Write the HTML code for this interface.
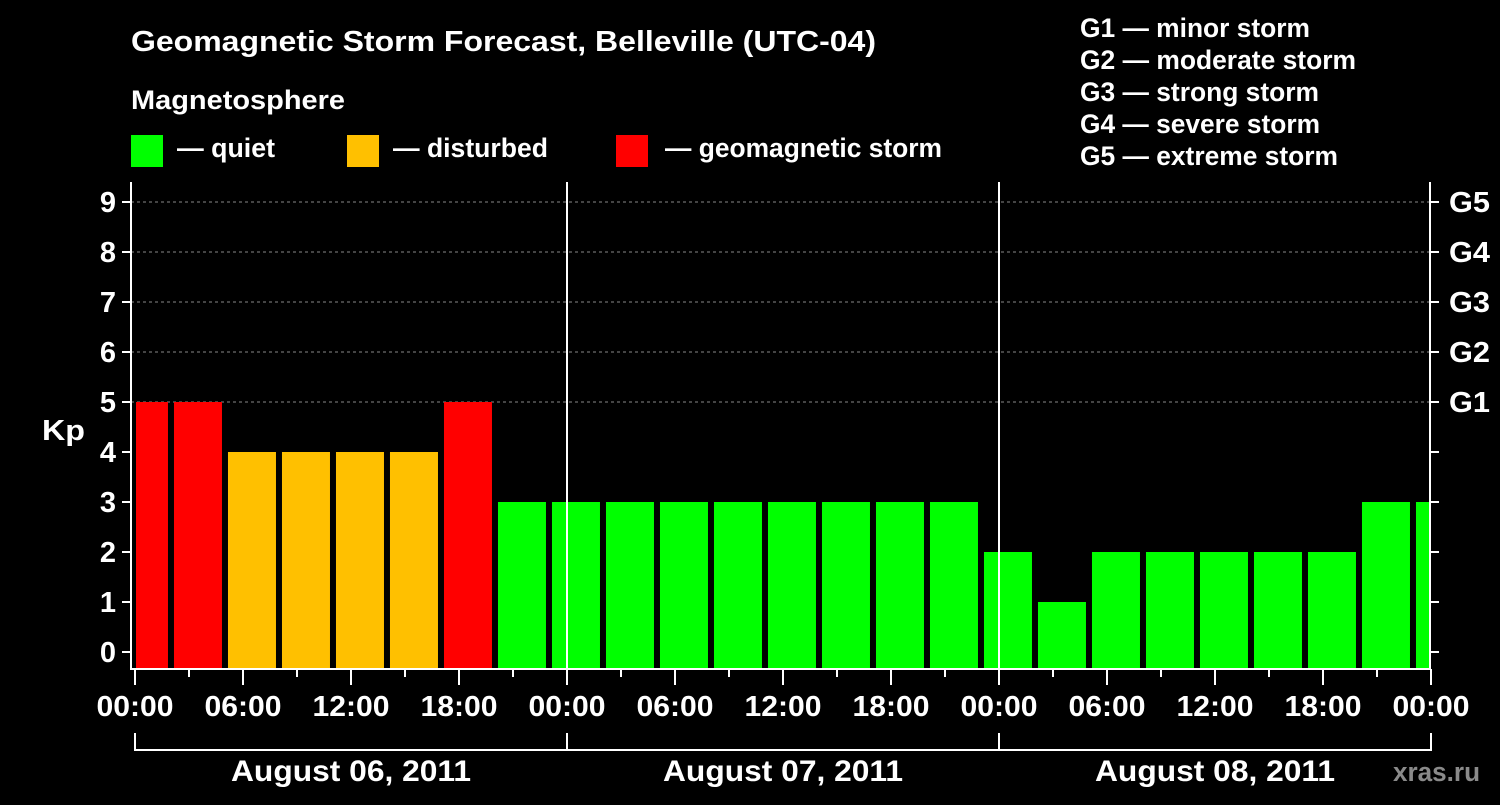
<!DOCTYPE html>
<html><head><meta charset="utf-8"><style>
body{margin:0;background:#000;width:1500px;height:800px;overflow:hidden}
svg text{font-family:"Liberation Sans",sans-serif;font-weight:bold;fill:#fff}
</style></head><body>
<svg id="c" width="1500" height="800">
<text x="131" y="51" font-size="29" textLength="745" lengthAdjust="spacingAndGlyphs">Geomagnetic Storm Forecast, Belleville (UTC-04)</text>
<text x="131" y="109" font-size="27" textLength="214" lengthAdjust="spacingAndGlyphs">Magnetosphere</text>
<rect x="131" y="135" width="32" height="32" fill="#00ff00"/>
<text x="177" y="157" font-size="27" textLength="98" lengthAdjust="spacingAndGlyphs">— quiet</text>
<rect x="347" y="135" width="32" height="32" fill="#ffc000"/>
<text x="393" y="157" font-size="27" textLength="155" lengthAdjust="spacingAndGlyphs">— disturbed</text>
<rect x="616" y="135" width="32" height="32" fill="#ff0000"/>
<text x="665" y="157" font-size="27" textLength="277" lengthAdjust="spacingAndGlyphs">— geomagnetic storm</text>
<g font-size="27">
<text x="1080" y="37" textLength="230" lengthAdjust="spacingAndGlyphs">G1 — minor storm</text>
<text x="1080" y="69" textLength="276" lengthAdjust="spacingAndGlyphs">G2 — moderate storm</text>
<text x="1080" y="101" textLength="239" lengthAdjust="spacingAndGlyphs">G3 — strong storm</text>
<text x="1080" y="133" textLength="240" lengthAdjust="spacingAndGlyphs">G4 — severe storm</text>
<text x="1080" y="165" textLength="258" lengthAdjust="spacingAndGlyphs">G5 — extreme storm</text>
</g>
<text x="42" y="440" font-size="29" textLength="43" lengthAdjust="spacingAndGlyphs">Kp</text>
<text x="1393" y="781" font-size="27" textLength="87" lengthAdjust="spacingAndGlyphs" style="fill:#8a8a8a">xras.ru</text>
<g id="grid"></g><g id="bars"></g><g id="axes"></g>
</svg>
<script>
const kpValues=[5,5,4,4,4,4,5,3,3,3,3,3,3,3,3,3,2,1,2,2,2,2,2,3,3];
const yTicks=[0,1,2,3,4,5,6,7,8,9];
const gLabels=["G1","G2","G3","G4","G5"];
const hourLabels=["00:00","06:00","12:00","18:00"];
const dayLabels=["August 06, 2011","August 07, 2011","August 08, 2011"];
const startHour=-0.89;
const NS="http://www.w3.org/2000/svg";
const L=131,R=1430,T=182,B=669,X0=135,PXH=18;
const x=h=>X0+h*PXH;
const y=v=>652-v*50;
function mk(tag,attrs,parent,txt){const e=document.createElementNS(NS,tag);for(const k in attrs)e.setAttribute(k,attrs[k]);if(txt!==undefined)e.textContent=txt;parent.appendChild(e);return e;}
const grid=document.getElementById('grid'),bars=document.getElementById('bars'),axes=document.getElementById('axes');
yTicks.forEach(v=>{
 if(v>=5){const g=mk('line',{x1:L,x2:R,y1:y(v),y2:y(v),stroke:'#888','stroke-dasharray':'3,3','stroke-width':1},grid);
 
 }
 const t=mk('line',{x1:L-9,x2:L,y1:y(v),y2:y(v),stroke:'#fff','stroke-width':2},axes);
 
 
 const lb=mk('text',{x:L-15,y:y(v)+10,'font-size':29,'text-anchor':'end'},axes,String(v));
 
 
 const rt=mk('line',{x1:R,x2:R+9,y1:y(v),y2:y(v),stroke:'#fff','stroke-width':2},axes);
 
 
});
gLabels.forEach((g,i)=>{
 const lb=mk('text',{x:R+19,y:y(5+i)+10,'font-size':29,textLength:41,lengthAdjust:'spacingAndGlyphs'},axes,g);
 
 
});
kpValues.forEach((v,i)=>{
 let x1=x(startHour+3*i)+1,x2=x(startHour+3*i+3)-5;
 x1=Math.max(x1,L+5);x2=Math.min(x2,R);
 if(x2<=x1)return;
 const col=v>=5?'#ff0000':(v>=4?'#ffc000':'#00ff00');
 const r=mk('rect',{x:x1,y:y(v),width:x2-x1,height:B-y(v),fill:col},bars);
 
 
});
[1,2].forEach(d=>{const l=mk('line',{x1:x(24*d),x2:x(24*d),y1:T,y2:B,stroke:'#fff','stroke-width':2},axes);
 
 });
const fr=mk('path',{d:`M${L} ${T}V${B}H${R}V${T}`,fill:'none',stroke:'#fff','stroke-width':2},axes);


for(let h=0;h<=72;h+=3){
 const major=h%6===0;
 const t=mk('line',{x1:x(h),x2:x(h),y1:B,y2:B+(major?16:8),stroke:'#fff','stroke-width':2},axes);
 
 
 if(major){const lb=mk('text',{x:x(h),y:716,'font-size':29,'text-anchor':'middle',textLength:77,lengthAdjust:'spacingAndGlyphs'},axes,hourLabels[(h/6)%4]);
 
 }
}
dayLabels.forEach((d,i)=>{
 const br=mk('path',{d:`M${x(24*i)} 733V750H${x(24*i+24)}V733`,fill:'none',stroke:'#fff','stroke-width':2},axes);
 
 
 const lb=mk('text',{x:x(24*i+12),y:781,'font-size':30,'text-anchor':'middle',textLength:240,lengthAdjust:'spacingAndGlyphs'},axes,d);
 
 
});
</script>
</body></html>
